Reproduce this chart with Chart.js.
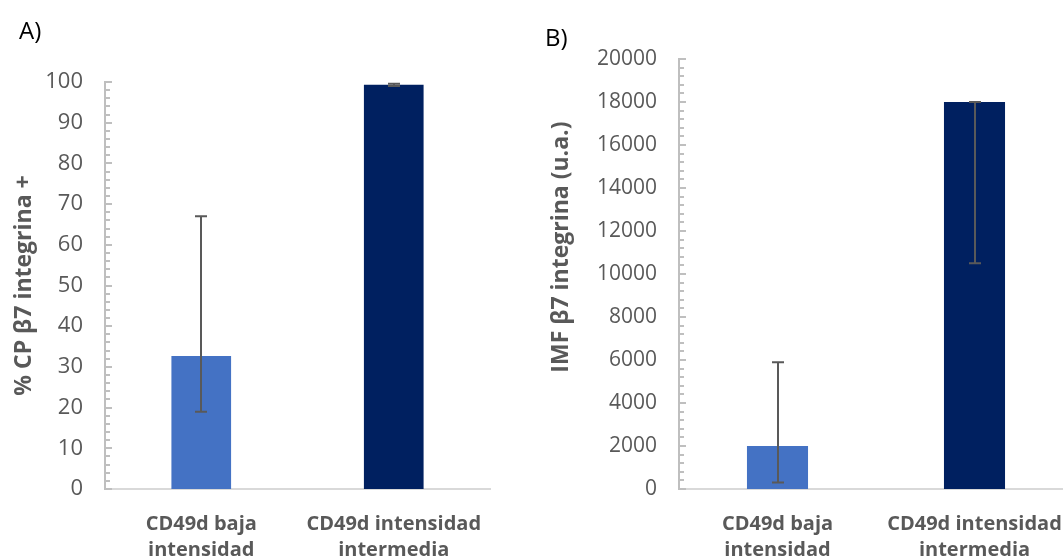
<!DOCTYPE html>
<html>
<head>
<meta charset="utf-8">
<script src="https://cdn.jsdelivr.net/npm/chart.js@4/dist/chart.umd.min.js"></script>
<style>
  html, body { margin: 0; padding: 0; background: #fff; overflow: hidden; }
  body { width: 1063px; height: 560px; position: relative; font-family: "Open Sans", sans-serif; }
  .panel { position: absolute; top: 0; height: 560px; }
  #wrapA { left: 0; width: 530px; }
  #wrapB { left: 530px; width: 560px; }
  .tag { position: absolute; font-size: 24px; color: #000; font-family: "Open Sans", sans-serif; line-height: 1; }
</style>
</head>
<body>
<div class="panel" id="wrapA"><canvas id="chartA" width="530" height="560"></canvas></div>
<div class="panel" id="wrapB"><canvas id="chartB" width="560" height="560"></canvas></div>
<div class="tag" style="left:19px; top:18px;">A)</div>
<div class="tag" style="left:545px; top:25px;">B)</div>
<script>
// Groups shared by both panels
const categories = [['CD49d baja', 'intensidad'], ['CD49d intensidad', 'intermedia']];
const barColors = ['#4472C4', '#002060'];

// Panel A: % of cells positive for β7 integrin
const pctValues = [32.7, 99.3];
const pctErrPlus = [34.3, 0.3];
const pctErrMinus = [13.7, 0.3];
const pctTicks = [0, 10, 20, 30, 40, 50, 60, 70, 80, 90, 100];

// Panel B: mean fluorescence intensity of β7 integrin
const mfiValues = [2000, 18000];
const mfiErrPlus = [3900, 0];
const mfiErrMinus = [1700, 7500];
const mfiTicks = [0, 2000, 4000, 6000, 8000, 10000, 12000, 14000, 16000, 18000, 20000];

const grey = '#595959';

// Vertical error bars with caps, placed through the bar and value scales
const errorBars = {
  id: 'errorBars',
  afterDatasetsDraw(chart, args, opts) {
    const ctx = chart.ctx;
    const y = chart.scales.y;
    const data = chart.data.datasets[0].data;
    const meta = chart.getDatasetMeta(0);
    ctx.save();
    ctx.strokeStyle = opts.color;
    ctx.lineWidth = opts.width;
    meta.data.forEach((bar, i) => {
      const v = data[i];
      const hi = y.getPixelForValue(v + opts.plus[i]);
      const lo = y.getPixelForValue(v - opts.minus[i]);
      const x = Math.round(bar.x);
      ctx.beginPath();
      ctx.moveTo(x, hi); ctx.lineTo(x, lo);
      ctx.moveTo(x - opts.cap, hi); ctx.lineTo(x + opts.cap, hi);
      ctx.moveTo(x - opts.cap, lo); ctx.lineTo(x + opts.cap, lo);
      ctx.stroke();
    });
    ctx.restore();
  }
};

// Short tick marks on the inner side of the value axis
const innerTicks = {
  id: 'innerTicks',
  afterDraw(chart, args, opts) {
    const ctx = chart.ctx;
    const y = chart.scales.y;
    const left = chart.chartArea.left;
    ctx.save();
    ctx.strokeStyle = opts.color;
    ctx.lineWidth = 2;
    for (let v = y.min; v <= y.max + 1e-9; v += opts.step) {
      const py = Math.round(y.getPixelForValue(v));
      const major = Math.abs(v / opts.majorStep - Math.round(v / opts.majorStep)) < 1e-6;
      ctx.beginPath();
      ctx.moveTo(left, py);
      ctx.lineTo(left + (major ? 7 : 5), py);
      ctx.stroke();
    }
    ctx.restore();
  }
};

function makeChart(id, cfg) {
  return new Chart(document.getElementById(id), {
    type: 'bar',
    data: {
      labels: categories,
      datasets: [{
        data: cfg.values,
        backgroundColor: barColors,
        borderWidth: 0,
        barPercentage: 0.31,
        categoryPercentage: 1
      }]
    },
    options: {
      responsive: false,
      animation: false,
      layout: { padding: { top: cfg.top, right: cfg.right, left: 0, bottom: 0 } },
      plugins: {
        legend: { display: false },
        tooltip: { enabled: false },
        errorBars: { plus: cfg.plus, minus: cfg.minus, color: grey, width: 2, cap: 6 },
        innerTicks: { step: cfg.minorStep, majorStep: cfg.majorStep, color: '#bfbfbf' }
      },
      scales: {
        x: {
          grid: { display: false, drawTicks: false },
          border: { display: true, color: '#d9d9d9', width: 2 },
          ticks: {
            color: grey,
            padding: 22,
            maxRotation: 0,
            autoSkip: false,
            font: { family: 'Open Sans', size: 20, weight: 'bold', lineHeight: 1.3 }
          },
          afterFit: s => { s.height = 560 - 489; }
        },
        y: {
          min: 0,
          max: cfg.ticks[cfg.ticks.length - 1],
          afterBuildTicks: s => { s.ticks = cfg.ticks.map(v => ({ value: v })); },
          grid: { display: false, drawTicks: false },
          border: { display: true, color: '#bfbfbf', width: 2 },
          ticks: {
            color: grey,
            padding: 22,
            font: { family: 'Open Sans', size: cfg.tickSize },
            callback: v => String(v)
          },
          title: {
            display: true,
            text: cfg.title,
            color: grey,
            padding: { top: cfg.titlePad, bottom: 0 },
            font: { family: 'Open Sans', size: 23, weight: 'bold' }
          },
          afterFit: s => { s.width = cfg.axisWidth; }
        }
      }
    },
    plugins: [errorBars, innerTicks]
  });
}

makeChart('chartA', {
  values: pctValues, plus: pctErrPlus, minus: pctErrMinus, ticks: pctTicks,
  title: '% CP β7 integrina +', top: 82, right: 40, axisWidth: 105, titlePad: 11,
  minorStep: 2, majorStep: 10, tickSize: 22
});

makeChart('chartB', {
  values: mfiValues, plus: mfiErrPlus, minus: mfiErrMinus, ticks: mfiTicks,
  title: '\u00a0'.repeat(9) + 'IMF β7 integrina (u.a.)', top: 59, right: 17, axisWidth: 149, titlePad: 18,
  minorStep: 400, majorStep: 2000, tickSize: 21
});
</script>
</body>
</html>
